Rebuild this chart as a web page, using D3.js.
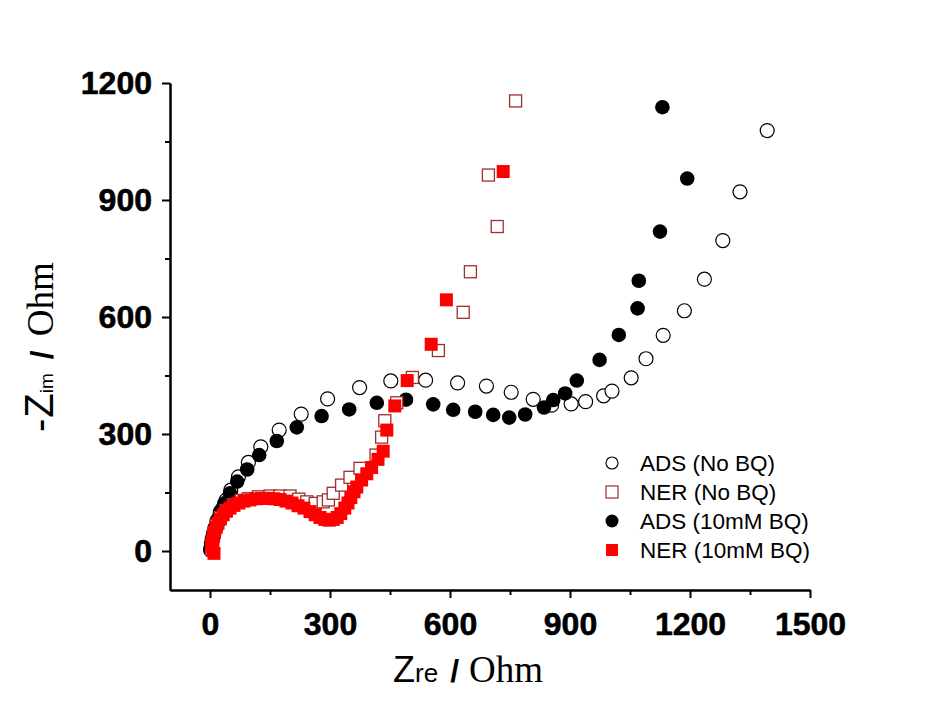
<!DOCTYPE html>
<html>
<head>
<meta charset="utf-8">
<script src="https://cdn.jsdelivr.net/npm/d3@7"></script>
<style>
body { margin: 0; background: #fff; }
</style>
</head>
<body>
<div id="chart"></div>
<script>
// Nyquist data, [Zre, -Zim] in Ohm
var adsNoBQ = [[2,3],[3,10],[4,18],[6,28],[9,40],[13,54],[18,70],[24,88],[31,108],[40,130],[52,156],[71,190],[96,227],[127,267],[173,310],[228,351],[294,390],[374,419],[452,436],[539,438],[619,431],[691,423],[753,407],[808,389],[854,374],[903,377],[939,383],[984,398],[1005,410],[1053,444],[1090,493],[1133,553],[1186,616],[1236,697],[1282,796],[1325,921],[1393,1078]]

var nerNoBQ = [[4,4],[5,22],[9,44],[16,66],[26,86],[40,104],[58,119],[78,130],[96,134],[121,139],[150,141],[175,141],[200,141],[222,133],[242,126],[263,122],[283,126],[296,131],[308,148],[329,169],[350,189],[375,212],[415,246],[429,292],[437,334],[467,380],[506,445],[571,514],[633,612],[651,716],[718,832],[696,964],[764,1154]]

var adsBQ = [[1,2],[2,10],[3,20],[5,32],[8,46],[12,60],[17,78],[25,100],[36,122],[50,148],[68,178],[93,209],[123,246],[167,282],[217,317],[279,346],[348,363],[417,380],[490,388],[558,376],[608,362],[663,357],[708,349],[748,342],[788,350],[835,368],[858,387],[888,404],[917,437],[974,490],[1022,554],[1069,622],[1072,693],[1125,819],[1193,955],[1131,1138]]

var nerBQ = [[10,-6],[7,2],[5,12],[6,24],[8,36],[11,48],[15,60],[20,71],[26,82],[33,93],[41,102],[50,110],[60,117],[72,123],[85,128],[100,131],[115,134],[130,135],[145,135],[160,134],[175,132],[190,128],[205,123],[220,116],[235,110],[250,101],[263,93],[275,86],[287,81],[298,79],[308,81],[318,86],[327,96],[337,110],[345,123],[352,137],[360,152],[367,164],[379,182],[392,198],[404,214],[420,235],[433,256],[442,310],[462,372],[493,437],[553,530],[591,644],[733,973]]

var xTicks = [0,300,600,900,1200,1500]
var yTicks = [0,300,600,900,1200]
var xMinor = [150,450,750,1050,1350]
var yMinor = [150,450,750,1050]
var legendNames = ["ADS (No BQ)","NER (No BQ)","ADS (10mM BQ)","NER (10mM BQ)"]

var width = 942
var height = 709
var sqColor = "#9c2f2f"
var red = "#ff0000"

var svg = d3.select("#chart").append("svg")
	.attr("width", width)
	.attr("height", height)
	.style("background", "#fff")

var xScale = d3.scaleLinear().domain([-100,1500]).range([170,810])
var yScale = d3.scaleLinear().domain([-100,1200]).range([590,83])
var fmt = d3.format("d")

// axes (only left + bottom, like the original)
svg.append("g")
	.attr("transform", "translate(0,590)")
	.call(d3.axisBottom(xScale).tickValues(xTicks).tickFormat(fmt).tickSize(8).tickSizeOuter(0).tickPadding(14))
svg.append("g")
	.attr("transform", "translate(0,590)")
	.call(d3.axisBottom(xScale).tickValues(xMinor).tickSize(5).tickSizeOuter(0).tickFormat(""))
svg.append("g")
	.attr("transform", "translate(170,0)")
	.call(d3.axisLeft(yScale).tickValues(yTicks).tickFormat(fmt).tickSize(8).tickSizeOuter(0).tickPadding(10))
svg.append("g")
	.attr("transform", "translate(170,0)")
	.call(d3.axisLeft(yScale).tickValues(yMinor).tickSize(5).tickSizeOuter(0).tickFormat(""))

svg.selectAll(".domain").attr("stroke", "#000").attr("stroke-width", 2)
svg.selectAll(".tick line").attr("stroke", "#000").attr("stroke-width", 2)
svg.selectAll(".tick text")
	.attr("font-family", "Arial, 'Liberation Sans', sans-serif")
	.attr("font-weight", "bold")
	.attr("font-size", "32px")
	.attr("fill", "#000")
	.attr("stroke", "#000")
	.attr("stroke-width", 0.6)

// draw the series: open circles, black circles, open squares, red squares
svg.append("g").selectAll("circle")
	.data(adsNoBQ)
	.enter().append("circle")
	.attr("cx", function(d){ return xScale(d[0]) })
	.attr("cy", function(d){ return yScale(d[1]) })
	.attr("r", 7)
	.attr("fill", "#fff")
	.attr("stroke", "#000")
	.attr("stroke-width", 1.2)

svg.append("g").selectAll("circle")
	.data(adsBQ)
	.enter().append("circle")
	.attr("cx", function(d){ return xScale(d[0]) })
	.attr("cy", function(d){ return yScale(d[1]) })
	.attr("r", 7.3)
	.attr("fill", "#000")

svg.append("g").selectAll("rect")
	.data(nerNoBQ)
	.enter().append("rect")
	.attr("x", function(d){ return xScale(d[0]) - 6 })
	.attr("y", function(d){ return yScale(d[1]) - 6 })
	.attr("width", 12)
	.attr("height", 12)
	.attr("fill", "#fff")
	.attr("stroke", sqColor)
	.attr("stroke-width", 1.3)

svg.append("g").selectAll("rect")
	.data(nerBQ)
	.enter().append("rect")
	.attr("x", function(d){ return xScale(d[0]) - 6.5 })
	.attr("y", function(d){ return yScale(d[1]) - 6.5 })
	.attr("width", 13)
	.attr("height", 13)
	.attr("fill", red)

// legend
var lg = svg.append("g")
var rowY = function(i){ return 463 + i * 29 }
lg.append("circle").attr("cx", 612).attr("cy", rowY(0)).attr("r", 6)
	.attr("fill", "#fff").attr("stroke", "#000").attr("stroke-width", 1.1)
lg.append("rect").attr("x", 606).attr("y", rowY(1) - 6).attr("width", 12).attr("height", 12)
	.attr("fill", "#fff").attr("stroke", sqColor).attr("stroke-width", 1.2)
lg.append("circle").attr("cx", 612).attr("cy", rowY(2)).attr("r", 6.5).attr("fill", "#000")
lg.append("rect").attr("x", 606).attr("y", rowY(3) - 6).attr("width", 12).attr("height", 12).attr("fill", red)

lg.selectAll("text")
	.data(legendNames)
	.enter().append("text")
	.attr("x", 640)
	.attr("y", function(d,i){ return rowY(i) })
	.attr("dy", "0.36em")
	.attr("font-family", "Arial, 'Liberation Sans', sans-serif")
	.attr("font-size", "22.5px")
	.attr("fill", "#000")
	.text(function(d){ return d })

// axis titles
var sans = "Arial, 'Liberation Sans', sans-serif"
var serif = "'Times New Roman', 'Liberation Serif', serif"

var xt = svg.append("text").attr("x", 393).attr("y", 682).attr("fill", "#000")
xt.append("tspan").attr("font-family", sans).attr("font-size", "36px").text("Z")
xt.append("tspan").attr("font-family", sans).attr("font-size", "26px").text("re")
xt.append("tspan").attr("dx", 12).attr("font-family", sans).attr("font-weight", "bold").attr("font-size", "32px").text("/")
xt.append("tspan").attr("dx", 10).attr("font-family", serif).attr("font-size", "37px").text("Ohm")

var yt = svg.append("text").attr("transform", "translate(53,432) rotate(-90)").attr("fill", "#000")
yt.append("tspan").attr("font-family", sans).attr("font-size", "40px").text("-")
yt.append("tspan").attr("dx", 1).attr("font-family", sans).attr("font-size", "40px").text("Z")
yt.append("tspan").attr("font-family", sans).attr("font-size", "19px").text("im")
yt.append("tspan").attr("dx", 14).attr("font-family", sans).attr("font-weight", "bold").attr("font-size", "32px").text("/")
yt.append("tspan").attr("dx", 14).attr("font-family", serif).attr("font-size", "37px").text("Ohm")
</script>
</body>
</html>
